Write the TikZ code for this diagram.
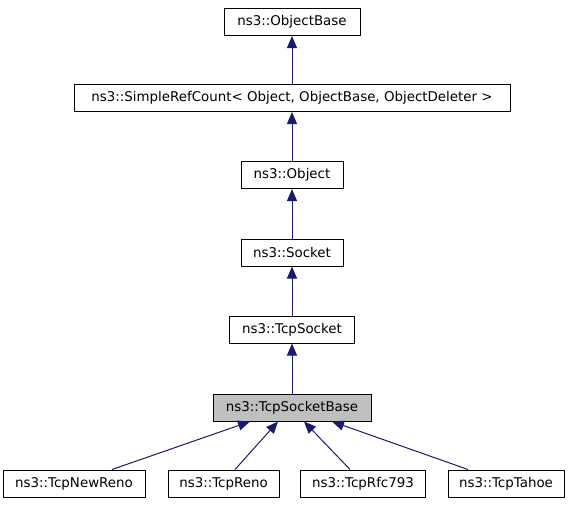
\documentclass[tikz,border=0pt]{standalone}
\usepackage{fontspec}
\setmainfont{DejaVu Sans}
\usetikzlibrary{arrows.meta}
\definecolor{edgeblue}{HTML}{191970}
\definecolor{boxgray}{HTML}{BFBFBF}
\begin{document}
\begin{tikzpicture}[x=1pt,y=-1pt,
  cls/.style={draw=black,line width=1pt,fill=white,rectangle,inner sep=0pt,minimum height=27pt,font=\fontsize{13.4}{15}\selectfont},
  inh/.style={draw=edgeblue,line width=1pt,{Triangle[length=12pt,width=10pt,fill=edgeblue]}-}
]
\useasboundingbox (0,0) rectangle (568,504);
\node[cls,minimum width=136pt] (ob) at (292,22) {ns3::ObjectBase};
\node[cls,minimum width=436pt] (src) at (292,98) {ns3::SimpleRefCount< Object, ObjectBase, ObjectDeleter >};
\node[cls,minimum width=102pt] (obj) at (292,175) {ns3::Object};
\node[cls,minimum width=102pt] (sock) at (292,252.5) {ns3::Socket};
\node[cls,minimum width=125pt] (tcps) at (292,329.5) {ns3::TcpSocket};
\node[cls,minimum width=158pt,fill=boxgray] (tsb) at (292,407.5) {ns3::TcpSocketBase};
\node[cls,minimum width=142pt] (nr) at (74,483.5) {ns3::TcpNewReno};
\node[cls,minimum width=111pt] (reno) at (223.5,483.5) {ns3::TcpReno};
\node[cls,minimum width=125pt] (rfc) at (363,483.5) {ns3::TcpRfc793};
\node[cls,minimum width=116pt] (tahoe) at (506,483.5) {ns3::TcpTahoe};
\draw[inh] (ob.south) -- (src.north);
\draw[inh] (src.south) -- (obj.north);
\draw[inh] (obj.south) -- (sock.north);
\draw[inh] (sock.south) -- (tcps.north);
\draw[inh] (tcps.south) -- (tsb.north);
\draw[inh] ([xshift=-42pt]tsb.south) -- ([xshift=38pt]nr.north);
\draw[inh] ([xshift=-14pt]tsb.south) -- ([xshift=11.5pt]reno.north);
\draw[inh] ([xshift=12pt]tsb.south) -- ([xshift=-13pt]rfc.north);
\draw[inh] ([xshift=40pt]tsb.south) -- ([xshift=-38pt]tahoe.north);
\end{tikzpicture}
\end{document}
